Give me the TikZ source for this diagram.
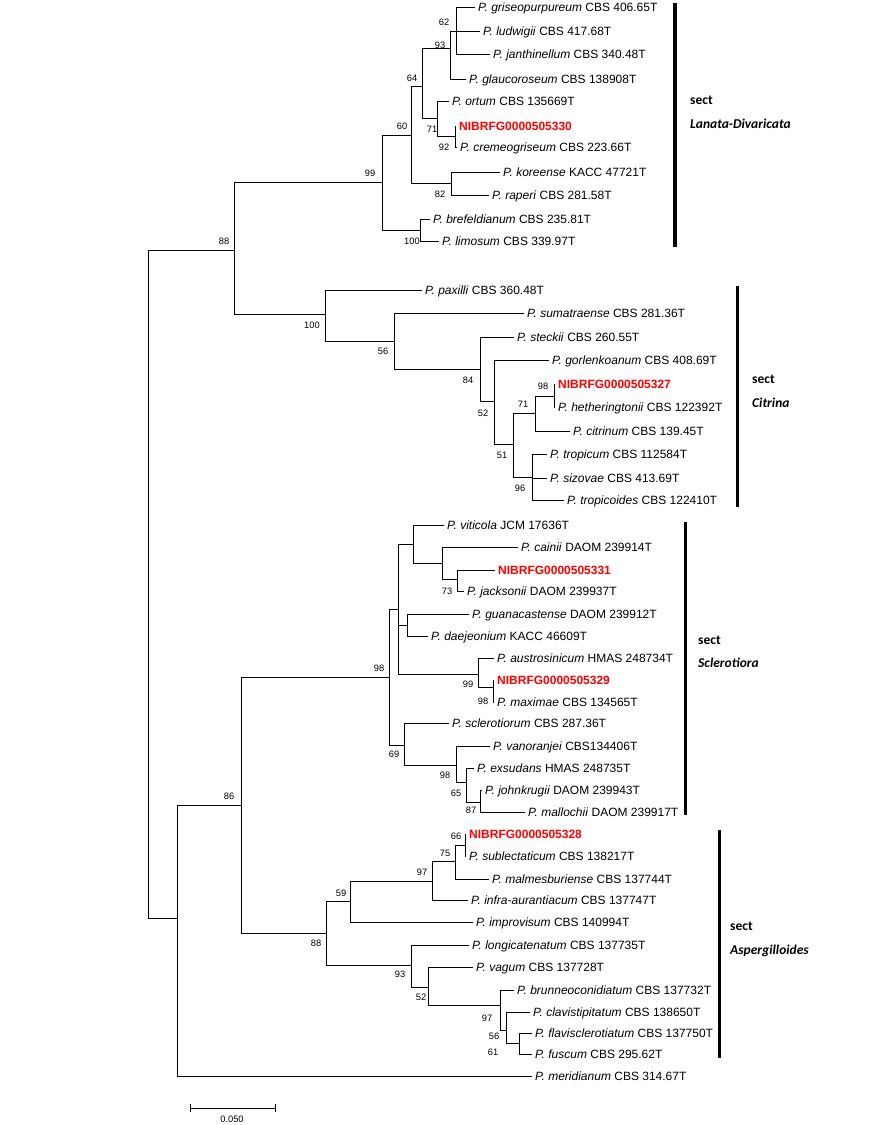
\documentclass[tikz,border=0pt]{standalone}
\usepackage{fontspec}
\setmainfont{Liberation Sans}
\newfontfamily\secfont{Carlito}
\definecolor{nibred}{RGB}{255,0,0}
\tikzset{
  tree/.style={line width=1pt, line cap=rect},
  leaf/.style={anchor=west, xshift=-3.5pt, inner xsep=3.5pt, inner ysep=0pt,
    text height=8.6pt, text depth=0pt, font=\fontsize{12}{14}\selectfont},
  nib/.style={leaf, text=nibred, font=\fontsize{12}{14}\selectfont\bfseries},
  bs/.style={inner sep=0pt, text height=6.7pt, text depth=0pt, font=\fontsize{9.3}{10}\selectfont},
  secbar/.style={line width=3pt},
  sectlab/.style={anchor=west, inner sep=0pt, text height=9pt, text depth=0pt,
    font=\secfont\fontsize{13.5}{15}\selectfont\bfseries},
}
\begin{document}
\begin{tikzpicture}[x=1pt,y=-1pt]
\useasboundingbox (0,0) rectangle (883,1125);
% ---------- leaves ----------
% Lanata-Divaricata
\node[leaf] (griseo) at (478,7) {\textit{P. griseopurpureum} CBS 406.65T};
\node[leaf] (ludw) at (483,31) {\textit{P. ludwigii} CBS 417.68T};
\node[leaf] (janth) at (493,54) {\textit{P. janthinellum} CBS 340.48T};
\node[leaf] (glauco) at (469,79) {\textit{P. glaucoroseum} CBS 138908T};
\node[leaf] (ortum) at (452,101) {\textit{P. ortum} CBS 135669T};
\node[nib] (nib330) at (459,126) {NIBRFG0000505330};
\node[leaf] (cremeo) at (460,147) {\textit{P. cremeogriseum} CBS 223.66T};
\node[leaf] (korean) at (503,172) {\textit{P. koreense} KACC 47721T};
\node[leaf] (raperi) at (492,195) {\textit{P. raperi} CBS 281.58T};
\node[leaf] (brefeld) at (433,219) {\textit{P. brefeldianum} CBS 235.81T};
\node[leaf] (limosum) at (442,241) {\textit{P. limosum} CBS 339.97T};
% Citrina
\node[leaf] (paxilli) at (425,290) {\textit{P. paxilli} CBS 360.48T};
\node[leaf] (sumatr) at (527,313) {\textit{P. sumatraense} CBS 281.36T};
\node[leaf] (steckii) at (517,337) {\textit{P. steckii} CBS 260.55T};
\node[leaf] (gorlenk) at (552,360) {\textit{P. gorlenkoanum} CBS 408.69T};
\node[nib] (nib327) at (558,384) {NIBRFG0000505327};
\node[leaf] (hether) at (558,407) {\textit{P. hetheringtonii} CBS 122392T};
\node[leaf] (citrinum) at (573,431) {\textit{P. citrinum} CBS 139.45T};
\node[leaf] (tropicum) at (550,454) {\textit{P. tropicum} CBS 112584T};
\node[leaf] (sizovae) at (550,478) {\textit{P. sizovae} CBS 413.69T};
\node[leaf] (tropicoides) at (567,500) {\textit{P. tropicoides} CBS 122410T};
% Sclerotiora
\node[leaf] (viticola) at (447,525) {\textit{P. viticola} JCM 17636T};
\node[leaf] (cainii) at (521,547) {\textit{P. cainii} DAOM 239914T};
\node[nib] (nib331) at (498,570) {NIBRFG0000505331};
\node[leaf] (jacksonii) at (467,591) {\textit{P. jacksonii} DAOM 239937T};
\node[leaf] (guan) at (472,614) {\textit{P. guanacastense} DAOM 239912T};
\node[leaf] (daej) at (431,636) {\textit{P. daejeonium} KACC 46609T};
\node[leaf] (austro) at (497,658) {\textit{P. austrosinicum} HMAS 248734T};
\node[nib] (nib329) at (497,680) {NIBRFG0000505329};
\node[leaf] (maximae) at (497,702) {\textit{P. maximae} CBS 134565T};
\node[leaf] (sclerot) at (452,723) {\textit{P. sclerotiorum} CBS 287.36T};
\node[leaf] (vanor) at (493,746) {\textit{P. vanoranjei} CBS134406T};
\node[leaf] (exsud) at (477,768) {\textit{P. exsudans} HMAS 248735T};
\node[leaf] (johnk) at (485,790) {\textit{P. johnkrugii} DAOM 239943T};
\node[leaf] (malloch) at (528,812) {\textit{P. mallochii} DAOM 239917T};
% Aspergilloides
\node[nib] (nib328) at (469,834) {NIBRFG0000505328};
\node[leaf] (sublect) at (469,856) {\textit{P. sublectaticum} CBS 138217T};
\node[leaf] (malmes) at (492,879) {\textit{P. malmesburiense} CBS 137744T};
\node[leaf] (infra) at (471,900) {\textit{P. infra-aurantiacum} CBS 137747T};
\node[leaf] (improv) at (476,922) {\textit{P. improvisum} CBS 140994T};
\node[leaf] (longic) at (472,945) {\textit{P. longicatenatum} CBS 137735T};
\node[leaf] (vagum) at (476,967) {\textit{P. vagum} CBS 137728T};
\node[leaf] (brunneo) at (517,990) {\textit{P. brunneoconidiatum} CBS 137732T};
\node[leaf] (clavist) at (533,1012) {\textit{P. clavistipitatum} CBS 138650T};
\node[leaf] (flavis) at (535,1033) {\textit{P. flavisclerotiatum} CBS 137750T};
\node[leaf] (fuscum) at (535,1054) {\textit{P. fuscum} CBS 295.62T};
\node[leaf] (merid) at (535,1076) {\textit{P. meridianum} CBS 314.67T};
% ---------- internal nodes ----------
\coordinate (root) at (148,584);
\coordinate (n88) at (234,250);
\coordinate (n99) at (382,182);
\coordinate (n60) at (411,135);
\coordinate (n64) at (422,86);
\coordinate (n93) at (450,48);
\coordinate (n62) at (456,31);
\coordinate (n71a) at (437,118);
\coordinate (n92) at (455,136);
\coordinate (n82) at (451,183);
\coordinate (n100a) at (420,230);
\coordinate (n100b) at (325,314);
\coordinate (n56b) at (394,341);
\coordinate (n84) at (480,369);
\coordinate (n52b) at (494,401);
\coordinate (n51) at (513,444);
\coordinate (n71b) at (535,413);
\coordinate (n98b) at (554,396);
\coordinate (n96b) at (532,477);
\coordinate (nlow) at (177,918);
\coordinate (n86) at (241,805);
\coordinate (n98c) at (389,677);
\coordinate (nA) at (398,609);
\coordinate (nV) at (413,544);
\coordinate (nC) at (442,563);
\coordinate (n73) at (457,579);
\coordinate (nG) at (407,625);
\coordinate (n99c) at (478,674);
\coordinate (n98d) at (493,687);
\coordinate (n69) at (404,745);
\coordinate (n98e) at (456,765);
\coordinate (n65) at (466,782);
\coordinate (n87) at (480,802);
\coordinate (n88d) at (326,933);
\coordinate (n59) at (350,901);
\coordinate (n97a) at (432,881);
\coordinate (n75) at (455,861);
\coordinate (n66) at (465,845);
\coordinate (n93d) at (411,965);
\coordinate (n52d) at (428,987);
\coordinate (n97b) at (500,1005);
\coordinate (n56d) at (506,1030);
\coordinate (n61) at (519,1043);
% ---------- branches ----------
\begin{scope}[tree]
\draw (root) |- (n88); \draw (root) |- (nlow);
\draw (n88) |- (n99); \draw (n88) |- (n100b);
\draw (n99) |- (n60); \draw (n99) |- (n100a);
\draw (n60) |- (n64); \draw (n60) |- (n82);
\draw (n64) |- (n93); \draw (n64) |- (n71a);
\draw (n93) |- (n62); \draw (n93) |- (glauco.west);
\draw (n62) |- (griseo.west); \draw (n62) |- (ludw.west); \draw (n62) |- (janth.west);
\draw (n71a) |- (ortum.west); \draw (n71a) |- (n92);
\draw (n92) |- (nib330.west); \draw (n92) |- (cremeo.west);
\draw (n82) |- (korean.west); \draw (n82) |- (raperi.west);
\draw (n100a) |- (brefeld.west); \draw (n100a) |- (limosum.west);
\draw (n100b) |- (paxilli.west); \draw (n100b) |- (n56b);
\draw (n56b) |- (sumatr.west); \draw (n56b) |- (n84);
\draw (n84) |- (steckii.west); \draw (n84) |- (n52b);
\draw (n52b) |- (gorlenk.west); \draw (n52b) |- (n51);
\draw (n51) |- (n71b); \draw (n51) |- (n96b);
\draw (n71b) |- (n98b); \draw (n71b) |- (citrinum.west);
\draw (n98b) |- (nib327.west); \draw (n98b) |- (hether.west);
\draw (n96b) |- (tropicum.west); \draw (n96b) |- (sizovae.west); \draw (n96b) |- (tropicoides.west);
\draw (nlow) |- (n86); \draw (nlow) |- (merid.west);
\draw (n86) |- (n98c); \draw (n86) |- (n88d);
\draw (n98c) |- (nA); \draw (n98c) |- (n69);
\draw (nA) |- (nV); \draw (nA) |- (nG); \draw (nA) |- (n99c);
\draw (nV) |- (viticola.west); \draw (nV) |- (nC);
\draw (nC) |- (cainii.west); \draw (nC) |- (n73);
\draw (n73) |- (nib331.west); \draw (n73) |- (jacksonii.west);
\draw (nG) |- (guan.west); \draw (nG) |- (daej.west);
\draw (n99c) |- (austro.west); \draw (n99c) |- (n98d);
\draw (n98d) |- (nib329.west); \draw (n98d) |- (maximae.west);
\draw (n69) |- (sclerot.west); \draw (n69) |- (n98e);
\draw (n98e) |- (vanor.west); \draw (n98e) |- (n65);
\draw (n65) |- (exsud.west); \draw (n65) |- (n87);
\draw (n87) |- (johnk.west); \draw (n87) |- (malloch.west);
\draw (n88d) |- (n59); \draw (n88d) |- (n93d);
\draw (n59) |- (n97a); \draw (n59) |- (improv.west);
\draw (n97a) |- (n75); \draw (n97a) |- (infra.west);
\draw (n75) |- (n66); \draw (n75) |- (malmes.west);
\draw (n66) |- (nib328.west); \draw (n66) |- (sublect.west);
\draw (n93d) |- (longic.west); \draw (n93d) |- (n52d);
\draw (n52d) |- (vagum.west); \draw (n52d) |- (n97b);
\draw (n97b) |- (brunneo.west); \draw (n97b) |- (n56d);
\draw (n56d) |- (clavist.west); \draw (n56d) |- (n61);
\draw (n61) |- (flavis.west); \draw (n61) |- (fuscum.west);
\end{scope}
% ---------- bootstrap values ----------
\node[bs] (b62) at (444,22) {62};
\node[bs] (b93) at (440,45) {93};
\node[bs] (b64) at (412,78) {64};
\node[bs] (b60) at (402,126) {60};
\node[bs] (b71a) at (432,129) {71};
\node[bs] (b92) at (444,147) {92};
\node[bs] (b82) at (440,194) {82};
\node[bs] (b100a) at (412,241) {100};
\node[bs] (b99) at (370,173) {99};
\node[bs] (b88) at (224,241) {88};
\node[bs] (b100b) at (312,325) {100};
\node[bs] (b56b) at (383,351) {56};
\node[bs] (b84) at (468,380) {84};
\node[bs] (b52b) at (483,413) {52};
\node[bs] (b51) at (502,455) {51};
\node[bs] (b71b) at (523,404) {71};
\node[bs] (b98b) at (543,386) {98};
\node[bs] (b96b) at (520,488) {96};
\node[bs] (b98c) at (379,668) {98};
\node[bs] (b73) at (447,591) {73};
\node[bs] (b99c) at (468,684) {99};
\node[bs] (b98d) at (483,701) {98};
\node[bs] (b69) at (394,754) {69};
\node[bs] (b98e) at (445,775) {98};
\node[bs] (b65) at (456,793) {65};
\node[bs] (b87) at (471,810) {87};
\node[bs] (b86) at (229,796) {86};
\node[bs] (b66) at (456,836) {66};
\node[bs] (b75) at (445,853) {75};
\node[bs] (b97a) at (422,872) {97};
\node[bs] (b59) at (341,893) {59};
\node[bs] (b88d) at (316,943) {88};
\node[bs] (b93d) at (400,974) {93};
\node[bs] (b52d) at (421,997) {52};
\node[bs] (b97b) at (487,1018) {97};
\node[bs] (b56d) at (494,1036) {56};
\node[bs] (b61) at (493,1052) {61};
% ---------- sections ----------
\coordinate (lanT) at (675,3); \coordinate (lanB) at (675,247);
\draw[secbar, line width=3.6pt] (lanT) -- (lanB);
\node[sectlab] (lanS) at (690,100) {sect};
\node[sectlab] (lanN) at (690,124) {\itshape Lanata-Divaricata};
\coordinate (citT) at (737,286); \coordinate (citB) at (737,507);
\draw[secbar] (citT) -- (citB);
\node[sectlab] (citS) at (752,379) {sect};
\node[sectlab] (citN) at (752,403) {\itshape Citrina};
\coordinate (sclT) at (685,522); \coordinate (sclB) at (685,815);
\draw[secbar] (sclT) -- (sclB);
\node[sectlab] (sclS) at (698,640) {sect};
\node[sectlab] (sclN) at (698,663) {\itshape Sclerotiora};
\coordinate (aspT) at (719,830); \coordinate (aspB) at (719,1058);
\draw[secbar] (aspT) -- (aspB);
\node[sectlab] (aspS) at (730,926) {sect};
\node[sectlab] (aspN) at (730,950) {\itshape Aspergilloides};
% ---------- scale bar ----------
\coordinate (sbL) at (190,1108); \coordinate (sbR) at (275,1108);
\draw[line width=1pt] (sbL) -- (sbR);
\draw[line width=1pt] ([yshift=4pt]sbL) -- ([yshift=-4pt]sbL);
\draw[line width=1pt] ([yshift=4pt]sbR) -- ([yshift=-4pt]sbR);
\node[bs] (sblab) at (232,1119) {0.050};
\end{tikzpicture}
\end{document}
